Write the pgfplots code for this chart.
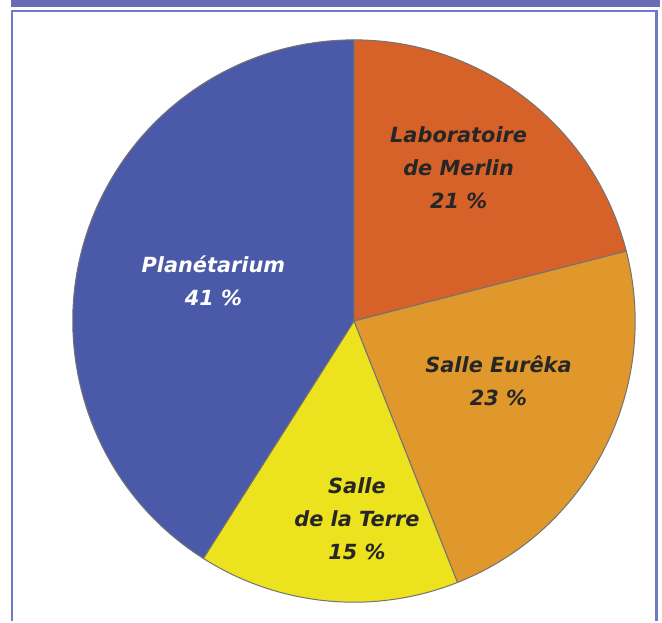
\documentclass[border=0pt]{standalone}
\usepackage{fontspec}
\setmainfont{DejaVu Sans}
\usepackage{pgfplots}
\pgfplotsset{compat=1.18}
\definecolor{band}{RGB}{104,108,180}
\definecolor{frame}{RGB}{112,120,200}
\definecolor{planet}{RGB}{74,90,168}
\definecolor{merlin}{RGB}{214,98,42}
\definecolor{eureka}{RGB}{224,152,44}
\definecolor{terre}{RGB}{236,226,30}
\begin{document}
\begin{tikzpicture}
\begin{axis}[x=1bp,y=1bp,xmin=0,xmax=662,ymin=-623,ymax=0,
  hide axis,scale only axis,clip=false]
% background
\fill[white] (axis cs:0,-623) rectangle (axis cs:662,0);
\fill[band] (axis cs:11,-7.5) rectangle (axis cs:662,0);
\draw[frame,line width=2.4bp] (axis cs:12.2,-623) -- (axis cs:12.2,-11.2) -- (axis cs:658.3,-11.2) -- (axis cs:658.3,-623);
% pie: 21 (Merlin), 23 (Eureka), 15 (Terre), 41 (Planetarium)
\filldraw[fill=merlin,draw=black!55,line width=1bp] (axis cs:355,-322) -- ++(90:282bp) arc[start angle=90,end angle={90-3.6*21},radius=282bp] -- cycle;
\filldraw[fill=eureka,draw=black!55,line width=1bp] (axis cs:355,-322) -- ++({90-3.6*21}:282bp) arc[start angle={90-3.6*21},end angle={90-3.6*44},radius=282bp] -- cycle;
\filldraw[fill=terre,draw=black!55,line width=1bp] (axis cs:355,-322) -- ++({90-3.6*44}:282bp) arc[start angle={90-3.6*44},end angle={90-3.6*59},radius=282bp] -- cycle;
\filldraw[fill=planet,draw=black!55,line width=1bp] (axis cs:355,-322) -- ++({90-3.6*59}:282bp) arc[start angle={90-3.6*59},end angle={90-3.6*100},radius=282bp] -- cycle;
% labels
\tikzset{lab/.style={align=center,inner sep=0pt,font=\fontsize{21}{33}\selectfont\bfseries\itshape}}
\node[lab,text=black!85] at (axis cs:460,-168) {Laboratoire\\de Merlin\\21 \%};
\node[lab,text=white] at (axis cs:214,-282) {Planétarium\\41 \%};
\node[lab,text=black!85] at (axis cs:500,-382) {Salle Eurêka\\23 \%};
\node[lab,text=black!85] at (axis cs:358,-520) {Salle\\de la Terre\\15 \%};
\end{axis}
\end{tikzpicture}
\end{document}
